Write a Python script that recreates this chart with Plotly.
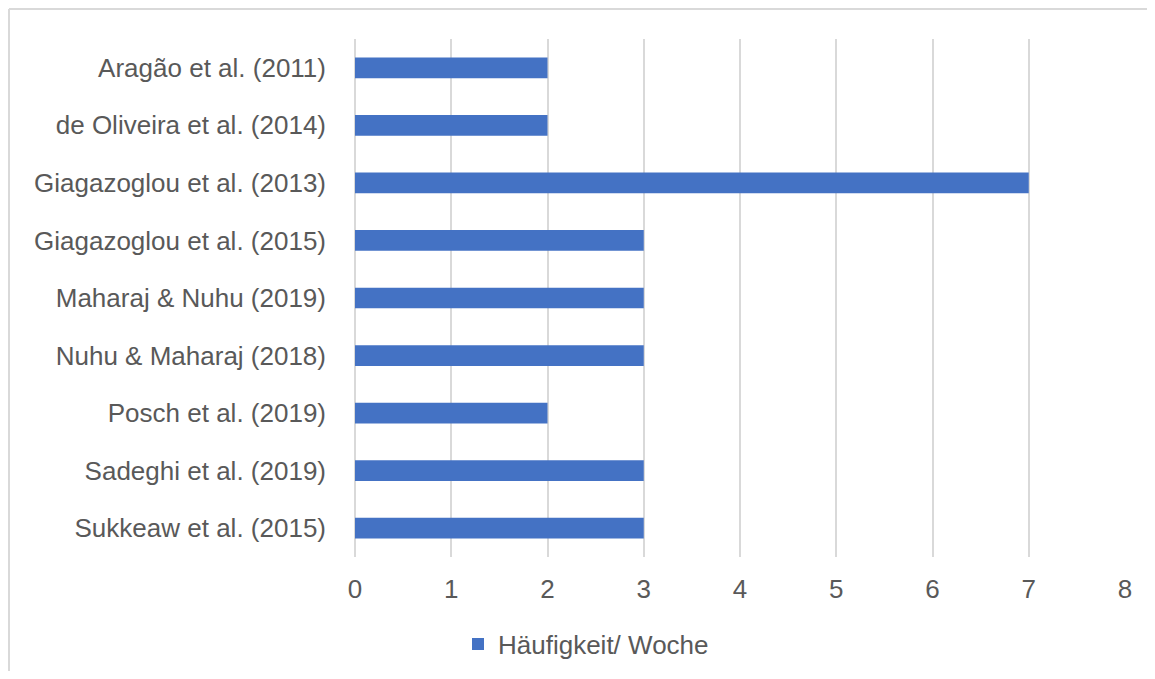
import plotly.graph_objects as go

studien = ["Aragão et al. (2011)", "de Oliveira et al. (2014)", "Giagazoglou et al. (2013)",
           "Giagazoglou et al. (2015)", "Maharaj & Nuhu (2019)", "Nuhu & Maharaj (2018)",
           "Posch et al. (2019)", "Sadeghi et al. (2019)", "Sukkeaw et al. (2015)"]
haeufigkeit = [2, 2, 7, 3, 3, 3, 2, 3, 3]
x_ticks = [0, 1, 2, 3, 4, 5, 6, 7, 8]

grau = "#595959"
linie = "#d9d9d9"

fig = go.Figure()
fig.add_trace(go.Bar(
    x=haeufigkeit, y=studien, orientation="h",
    name="Häufigkeit/ Woche", marker=dict(color="#4472C4", line=dict(width=0)),
    width=0.36,
))

# page has an 8px body margin, so figure coords = screenshot coords - 8
# keep the figure inside the body so nothing overflows
W, H = 1139, 663
ml, mr, mt, mb = 347, 22, 31, 114
pw, ph = W - ml - mr, H - mt - mb

fig.update_layout(
    width=W, height=H,
    margin=dict(l=ml, r=mr, t=mt, b=mb, autoexpand=False),
    paper_bgcolor="white", plot_bgcolor="white",
    font=dict(family="Liberation Sans, Arial", size=26, color=grau),
    showlegend=True,
    legend=dict(orientation="h", x=(578 - ml) / pw, xanchor="center",
                y=(mt + ph - 636) / ph, yanchor="middle",
                font=dict(size=26, color=grau)),
    xaxis=dict(range=[0, 8], tickvals=x_ticks, showgrid=True, gridcolor=linie, gridwidth=2,
               zeroline=True, zerolinecolor=linie, zerolinewidth=2, showline=False,
               ticks="", ticklabelstandoff=14),
    yaxis=dict(autorange="reversed", showgrid=False, showline=False, ticks="",
               ticklabelstandoff=28),
    shapes=[
        # outer chart border (top and left visible)
        dict(type="line", xref="paper", yref="paper",
             x0=(1 - ml) / pw, x1=1.2, y0=(mt + ph - 1) / ph, y1=(mt + ph - 1) / ph,
             line=dict(color=linie, width=2)),
        dict(type="line", xref="paper", yref="paper",
             x0=(1 - ml) / pw, x1=(1 - ml) / pw, y0=-0.5, y1=(mt + ph - 1) / ph,
             line=dict(color=linie, width=2)),
    ],
)

fig.write_html("out.html")
